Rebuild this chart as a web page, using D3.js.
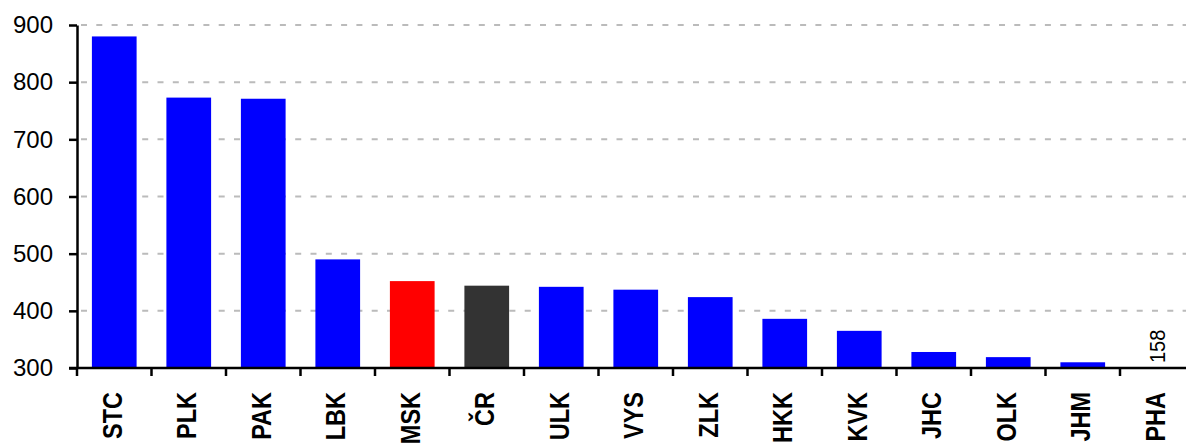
<!DOCTYPE html>
<html>
<head>
<meta charset="utf-8">
<script src="https://cdn.jsdelivr.net/npm/d3@7"></script>
<style>
  html, body { margin: 0; padding: 0; background: #fff; }
  svg { display: block; font-family: "Liberation Sans", Arial, sans-serif; }
</style>
</head>
<body>
<div id="chart"></div>
<script>
var categories = ['STC', 'PLK', 'PAK', 'LBK', 'MSK', 'ČR', 'ULK', 'VYS', 'ZLK', 'HKK', 'KVK', 'JHC', 'OLK', 'JHM', 'PHA'];
var values = [880, 773, 771, 490, 452, 444, 442, 437, 424, 386, 365, 328, 319, 310, 158];
var barColours = ['#0000ff', '#0000ff', '#0000ff', '#0000ff', '#ff0000', '#333333', '#0000ff', '#0000ff', '#0000ff', '#0000ff', '#0000ff', '#0000ff', '#0000ff', '#0000ff', '#0000ff'];
var yTicks = [300, 400, 500, 600, 700, 800, 900];

var width = 1186, height = 443;
var plotLeft = 77, plotTop = 25, plotBottom = 368;
var step = 74.5;

var svg = d3.select('#chart')
  .append('svg')
  .attr('width', width)
  .attr('height', height);

var x = d3.scaleBand()
  .domain(categories)
  .range([plotLeft, plotLeft + step * categories.length])
  .paddingInner(0.4)
  .paddingOuter(0.2);

var y = d3.scaleLinear()
  .domain([300, 900])
  .range([plotBottom, plotTop]);

// dashed grid
svg.append('g')
  .selectAll('line')
  .data(yTicks.slice(1))
  .enter()
  .append('line')
  .attr('x1', plotLeft + 4)
  .attr('x2', width)
  .attr('y1', function(d) { return y(d); })
  .attr('y2', function(d) { return y(d); })
  .attr('stroke', '#bbbbbb')
  .attr('stroke-width', 2)
  .attr('stroke-dasharray', '6,9.3');

// bars (values under the axis minimum are not drawn)
var shown = d3.range(values.length).filter(function(i) { return values[i] >= y.domain()[0]; });
svg.append('g')
  .selectAll('rect')
  .data(shown)
  .enter()
  .append('rect')
  .attr('x', function(i) { return x(categories[i]); })
  .attr('y', function(i) { return y(values[i]); })
  .attr('width', x.bandwidth())
  .attr('height', function(i) { return y(300) - y(values[i]); })
  .attr('fill', function(i) { return barColours[i]; });

// value label for off-scale bar
values.forEach(function(d, i) {
  if (d >= y.domain()[0]) return;
  var cx = x(categories[i]) + x.bandwidth() / 2;
  svg.append('text')
    .attr('transform', 'translate(' + (cx + 7.5) + ',' + (y(300) - 5) + ') rotate(-90) scale(1, 1.12)')
    .attr('font-size', 20)
    .attr('fill', '#000')
    .text(d);
});

// y axis
var yAxis = svg.append('g')
  .attr('transform', 'translate(' + plotLeft + ',0)')
  .call(d3.axisLeft(y).tickValues(yTicks).tickSize(8).tickPadding(16).tickSizeOuter(0));
yAxis.select('.domain').attr('stroke', '#000').attr('stroke-width', 2.5);
yAxis.selectAll('.tick line').attr('stroke', '#000').attr('stroke-width', 2.5);
yAxis.selectAll('.tick text')
  .attr('font-size', 24)
  .attr('font-family', '"Liberation Sans", Arial, sans-serif')
  .attr('fill', '#000');

// x axis line and ticks between categories
var xg = svg.append('g');
xg.append('line')
  .attr('x1', plotLeft - 8)
  .attr('x2', width)
  .attr('y1', plotBottom)
  .attr('y2', plotBottom)
  .attr('stroke', '#000')
  .attr('stroke-width', 2.5);
xg.selectAll('.xtick')
  .data(categories)
  .enter()
  .append('line')
  .attr('class', 'xtick')
  .attr('x1', function(d) { return x(d) - x.step() * x.paddingOuter() + x.step(); })
  .attr('x2', function(d) { return x(d) - x.step() * x.paddingOuter() + x.step(); })
  .attr('y1', plotBottom)
  .attr('y2', plotBottom + 8)
  .attr('stroke', '#000')
  .attr('stroke-width', 2.5);
xg.append('line')
  .attr('x1', plotLeft).attr('x2', plotLeft)
  .attr('y1', plotBottom).attr('y2', plotBottom + 8)
  .attr('stroke', '#000').attr('stroke-width', 2.5);

// category labels
xg.selectAll('.xlabel')
  .data(categories)
  .enter()
  .append('text')
  .attr('class', 'xlabel')
  .attr('transform', function(d) {
    return 'translate(' + (x(d) + x.bandwidth() / 2 + 7.5) + ',' + (plotBottom + 24) + ') rotate(-90) scale(1, 1.2)';
  })
  .attr('text-anchor', 'end')
  .attr('font-size', 23.5)
  .attr('font-weight', 'bold')
  .attr('fill', '#000')
  .text(function(d) { return d; });
</script>
</body>
</html>
